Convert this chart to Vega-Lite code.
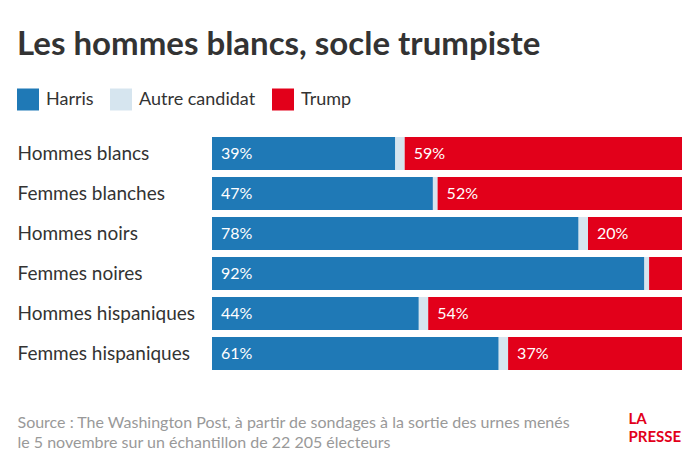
{
  "$schema": "https://vega.github.io/schema/vega-lite/v6.json",
  "autosize": {"type": "none"},
  "width": 470,
  "height": {"step": 40},
  "padding": {"left": 212, "top": 133.5, "right": 18, "bottom": 76.5},
  "background": "#ffffff",
  "config": {
    "view": {"stroke": null},
    "font": "Lato",
    "text": {"font": "Lato"}
  },
  "title": {
    "text": "Les hommes blancs, socle trumpiste",
    "anchor": "start",
    "frame": "group",
    "dx": -195,
    "offset": 27,
    "fontSize": 33,
    "fontWeight": "bold",
    "color": "#333333",
    "font": "Lato"
  },
  "data": {
    "values": [
      {"group": "Hommes blancs", "cand": "Harris", "order": 1, "pct": 0.39},
      {"group": "Hommes blancs", "cand": "Autre candidat", "order": 2, "pct": 0.02},
      {"group": "Hommes blancs", "cand": "Trump", "order": 3, "pct": 0.59},
      {"group": "Femmes blanches", "cand": "Harris", "order": 1, "pct": 0.47},
      {"group": "Femmes blanches", "cand": "Autre candidat", "order": 2, "pct": 0.01},
      {"group": "Femmes blanches", "cand": "Trump", "order": 3, "pct": 0.52},
      {"group": "Hommes noirs", "cand": "Harris", "order": 1, "pct": 0.78},
      {"group": "Hommes noirs", "cand": "Autre candidat", "order": 2, "pct": 0.02},
      {"group": "Hommes noirs", "cand": "Trump", "order": 3, "pct": 0.20},
      {"group": "Femmes noires", "cand": "Harris", "order": 1, "pct": 0.92},
      {"group": "Femmes noires", "cand": "Autre candidat", "order": 2, "pct": 0.01},
      {"group": "Femmes noires", "cand": "Trump", "order": 3, "pct": 0.07},
      {"group": "Hommes hispaniques", "cand": "Harris", "order": 1, "pct": 0.44},
      {"group": "Hommes hispaniques", "cand": "Autre candidat", "order": 2, "pct": 0.02},
      {"group": "Hommes hispaniques", "cand": "Trump", "order": 3, "pct": 0.54},
      {"group": "Femmes hispaniques", "cand": "Harris", "order": 1, "pct": 0.61},
      {"group": "Femmes hispaniques", "cand": "Autre candidat", "order": 2, "pct": 0.02},
      {"group": "Femmes hispaniques", "cand": "Trump", "order": 3, "pct": 0.37}
    ]
  },
  "transform": [
    {"stack": "pct", "groupby": ["group"], "sort": [{"field": "order", "order": "ascending"}], "as": ["s0", "s1"]}
  ],
  "encoding": {
    "y": {
      "field": "group",
      "type": "nominal",
      "sort": ["Hommes blancs", "Femmes blanches", "Hommes noirs", "Femmes noires", "Hommes hispaniques", "Femmes hispaniques"],
      "scale": {"paddingInner": 0.175, "paddingOuter": 0.0875},
      "axis": {
        "domain": false,
        "ticks": false,
        "labelAlign": "left",
        "labelPadding": 195,
        "labelFontSize": 19,
        "labelColor": "#333333",
        "labelFont": "Lato",
        "title": ["LA", "PRESSE"],
        "titleAngle": 0,
        "titleX": 416,
        "titleY": 278,
        "titleAlign": "left",
        "titleBaseline": "top",
        "titleFontSize": 15,
        "titleFontWeight": "bold",
        "titleColor": "#e2001a",
        "titleFont": "Lato",
        "titleLineHeight": 18
      }
    }
  },
  "layer": [
    {
      "mark": {"type": "bar"},
      "encoding": {
        "x": {
          "field": "s0",
          "type": "quantitative",
          "scale": {"domain": [0, 1], "nice": false},
          "axis": {
            "domain": false,
            "ticks": false,
            "labels": false,
            "grid": false,
            "title": ["Source : The Washington Post, à partir de sondages à la sortie des urnes menés", "le 5 novembre sur un échantillon de 22 205 électeurs"],
            "titleAnchor": "start",
            "titleAlign": "left",
            "titleBaseline": "top",
            "titleX": -195,
            "titleY": 41,
            "titleFontSize": 16,
            "titleFontWeight": "normal",
            "titleColor": "#999999",
            "titleFont": "Lato",
            "titleLineHeight": 20
          }
        },
        "x2": {"field": "s1"},
        "color": {
          "field": "cand",
          "type": "nominal",
          "scale": {"domain": ["Harris", "Autre candidat", "Trump"], "range": ["#1f79b6", "#d6e5ef", "#e2001a"]},
          "legend": {
            "orient": "none",
            "legendX": -195,
            "legendY": -45,
            "direction": "horizontal",
            "title": null,
            "symbolType": "square",
            "symbolSize": 484,
            "symbolStrokeWidth": 0,
            "labelFontSize": 18,
            "labelColor": "#333333",
            "labelFont": "Lato",
            "labelOffset": 7,
            "columnPadding": 16
          }
        }
      }
    },
    {
      "transform": [{"filter": "datum.cand != 'Autre candidat' && datum.pct >= 0.1"}],
      "mark": {"type": "text", "align": "left", "baseline": "middle", "dx": 9, "fontSize": 16, "color": "#ffffff", "font": "Lato"},
      "encoding": {
        "x": {"field": "s0", "type": "quantitative"},
        "text": {"field": "pct", "type": "quantitative", "format": ".0%"}
      }
    }
  ]
}
